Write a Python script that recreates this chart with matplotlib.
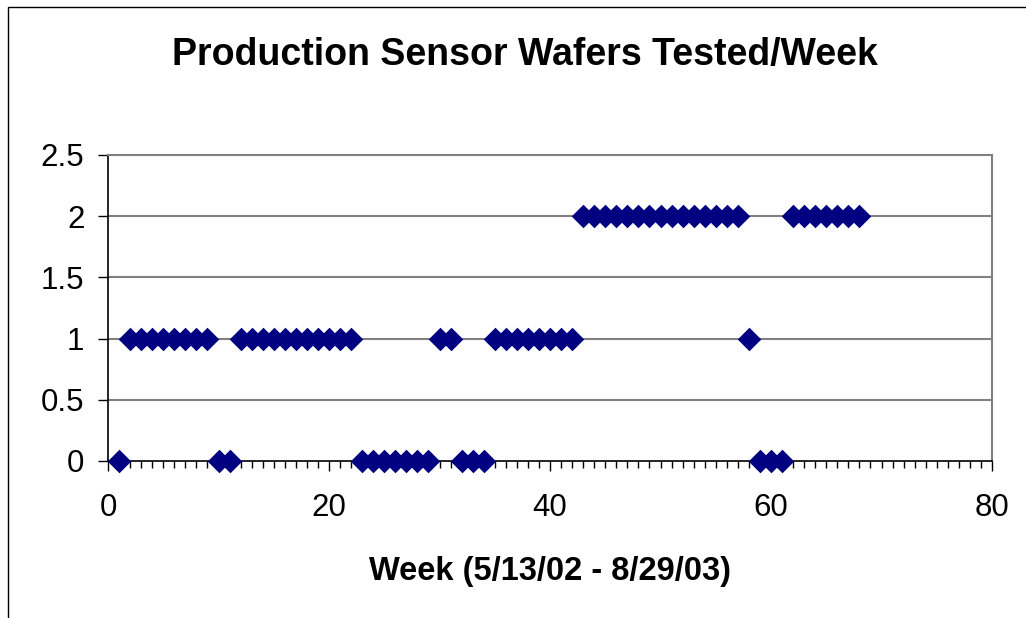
import numpy as np
import matplotlib.pyplot as plt
from matplotlib.patches import Rectangle

# week numbers and wafers tested each week
weeks = list(range(1, 69))
wafers = ([0] + [1] * 8 + [0] * 2 + [1] * 11 + [0] * 7 + [1] * 2 + [0] * 3
          + [1] * 8 + [2] * 15 + [1] + [0] * 3 + [2] * 7)

title = 'Production Sensor Wafers Tested/Week'
xlabel = 'Week (5/13/02 - 8/29/03)'

plt.rcParams['font.family'] = ['Liberation Sans', 'DejaVu Sans']

W, H = 1026, 618
fig = plt.figure(figsize=(W / 100, H / 100), dpi=100)

# chart frame (cut off on the right and bottom like the original)
fig.patches.append(Rectangle((8 / W, -0.1), 1.2, 1 - 7 / H + 0.1,
                             transform=fig.transFigure, fill=False,
                             edgecolor='black', linewidth=1.0))

ax = fig.add_axes([108 / W, 1 - 461 / H, (992 - 108) / W, (461 - 155) / H])
ax.scatter(weeks, wafers, marker='D', s=12 ** 2, color='#000080',
           linewidths=0, zorder=3, clip_on=False)

ax.set_xlim(0, 80)
ax.set_ylim(0, 2.5)
ax.set_xticks([0, 20, 40, 60, 80])
ax.set_xticks(np.arange(0, 81, 1), minor=True)
ax.set_yticks([0, 0.5, 1, 1.5, 2, 2.5])
ax.set_yticklabels(['0', '0.5', '1', '1.5', '2', '2.5'])

for y in [0.5, 1, 1.5, 2]:
    ax.axhline(y, color='#808080', linewidth=1.5, zorder=1)

ax.spines['top'].set_color('#808080')
ax.spines['right'].set_color('#808080')
ax.spines['top'].set_linewidth(1.5)
ax.spines['right'].set_linewidth(1.5)
ax.spines['left'].set_linewidth(1.2)
ax.spines['bottom'].set_linewidth(1.2)

ax.tick_params(axis='both', which='major', direction='out', length=7,
               width=1, labelsize=22.5, pad=10)
ax.tick_params(axis='x', which='minor', direction='out', length=5, width=1)
ax.tick_params(axis='x', which='major', pad=16)

ax.set_xlabel(xlabel, fontsize=23.5, fontweight='bold', labelpad=24)
fig.text(525 / W, 1 - 55 / H, title, fontsize=27, fontweight='bold',
         ha='center', va='center')

fig.savefig('out.png', dpi=100, facecolor='white')
